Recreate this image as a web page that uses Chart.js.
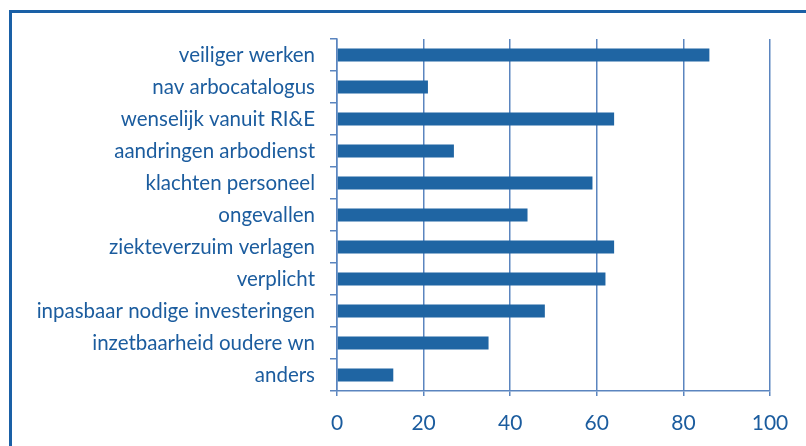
<!DOCTYPE html>
<html>
<head>
<meta charset="utf-8">
<script src="https://cdn.jsdelivr.net/npm/chart.js@4"></script>
<style>
    body { margin: 0; background: #fff; overflow: hidden; }
    #frame {
        position: absolute; left: 9px; top: 10px; width: 900px; height: 500px;
        border-left: 3px solid #1a60a6; border-top: 3px solid #1a60a6;
    }
    #wrap { position: absolute; left: 0; top: 0; width: 806px; height: 446px; }
</style>
</head>
<body>
<div id="frame"></div>
<div id="wrap"><canvas id="redenChart"></canvas></div>
<script>
const categories = [
    'veiliger werken', 'nav arbocatalogus', 'wenselijk vanuit RI&E', 'aandringen arbodienst',
    'klachten personeel', 'ongevallen', 'ziekteverzuim verlagen', 'verplicht',
    'inpasbaar nodige investeringen', 'inzetbaarheid oudere wn', 'anders'
];
const values = [86, 21, 64, 27, 59, 44, 64, 62, 48, 35, 13];
const xTicks = [0, 20, 40, 60, 80, 100];

const textBlue = '#1b5c9e';
const barBlue = '#1f65a3';
const gridBlue = '#5b85bf';

function InitRedenChart() {
    const ctx = document.getElementById('redenChart').getContext('2d');
    new Chart(ctx, {
        type: 'bar',
        data: {
            labels: categories,
            datasets: [{
                data: values,
                backgroundColor: barBlue,
                borderWidth: 0,
                barPercentage: 0.4,
                categoryPercentage: 1
            }]
        },
        options: {
            indexAxis: 'y',
            responsive: true,
            maintainAspectRatio: false,
            animation: false,
            layout: { padding: { left: 0, top: 39, right: 36, bottom: 0 } },
            plugins: { legend: { display: false }, tooltip: { enabled: false } },
            scales: {
                x: {
                    min: 0,
                    max: 100,
                    afterBuildTicks: (scale) => { scale.ticks = xTicks.map(v => ({ value: v })); },
                    afterFit: (scale) => { scale.height = 55; },
                    grid: {
                        color: gridBlue,
                        lineWidth: 1.5,
                        tickLength: 5,
                        drawTicks: true
                    },
                    border: { display: true, color: gridBlue, width: 1.5 },
                    ticks: {
                        color: textBlue,
                        padding: 15,
                        font: { family: 'Lato', size: 21 }
                    }
                },
                y: {
                    afterFit: (scale) => { scale.width = 337; },
                    grid: {
                        offset: true,
                        drawOnChartArea: false,
                        color: gridBlue,
                        lineWidth: 1.5,
                        tickLength: 7
                    },
                    border: { display: true, color: gridBlue, width: 1.5 },
                    ticks: {
                        color: textBlue,
                        padding: 15,
                        font: { family: 'Lato', size: 20.5 }
                    }
                }
            }
        }
    });
}

InitRedenChart();
</script>
</body>
</html>
